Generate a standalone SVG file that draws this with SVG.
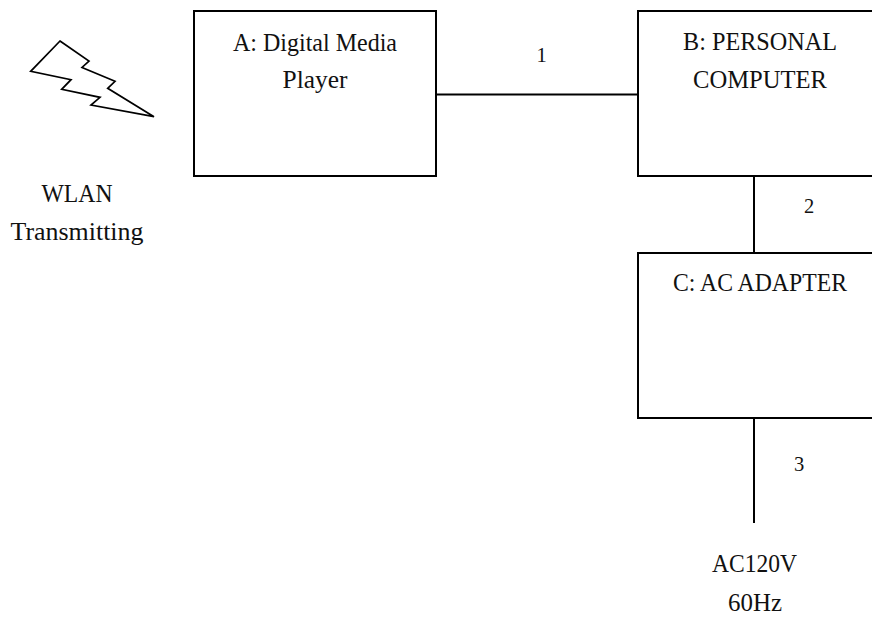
<svg xmlns="http://www.w3.org/2000/svg" width="872" height="617" viewBox="0 0 872 617">
<style>
.box{fill:#fff;stroke:#000;stroke-width:2}
.c{fill:none;stroke:#000;stroke-width:2}
text{font-family:"Liberation Serif","Noto Sans CJK JP",serif;font-size:24.5px;fill:#111;text-anchor:middle}
.s{font-size:20.5px}
</style>
<rect width="872" height="617" fill="#fff"/>
<g id="connectors">
<line class="c" x1="436" y1="94.500" x2="638" y2="94.500"/>
<line class="c" x1="754" y1="176" x2="754" y2="252"/>
<line class="c" x1="754" y1="418" x2="754" y2="523"/>
</g>
<g id="node-wlan">
<polygon points="60,41 89,61 82,67.500 115,81.300 107.700,88.300 154,116.700 91,105 100,97.300 61.700,89.300 71,79.700 30.700,71.300" fill="#fff" stroke="#000" stroke-width="1.700"/>
<text x="77" y="202" textLength="71" lengthAdjust="spacingAndGlyphs">WLAN</text>
<text x="77" y="240" textLength="133" lengthAdjust="spacingAndGlyphs">Transmitting</text>
</g>
<g id="node-a">
<rect class="box" x="194" y="11" width="242" height="165"/>
<text x="315" y="50.500" textLength="164" lengthAdjust="spacingAndGlyphs">A: Digital Media</text>
<text x="315" y="88" textLength="65" lengthAdjust="spacingAndGlyphs">Player</text>
</g>
<g id="label-1"><text class="s" x="541.500" y="61.500">1</text></g>
<g id="node-b">
<rect class="box" x="638" y="11" width="240" height="165"/>
<text x="760" y="50" textLength="154" lengthAdjust="spacingAndGlyphs">B: PERSONAL</text>
<text x="760" y="88" textLength="134" lengthAdjust="spacingAndGlyphs">COMPUTER</text>
</g>
<g id="label-2"><text class="s" x="809" y="213">2</text></g>
<g id="node-c">
<rect class="box" x="638" y="253" width="240" height="165"/>
<text x="760" y="290.800" textLength="174" lengthAdjust="spacingAndGlyphs">C: AC ADAPTER</text>
</g>
<g id="label-3"><text class="s" x="799" y="470.800">3</text></g>
<g id="node-ac">
<text x="754.500" y="572.300" textLength="85" lengthAdjust="spacingAndGlyphs">AC120V</text>
<text x="755" y="610.800" textLength="54" lengthAdjust="spacingAndGlyphs">60Hz</text>
</g>
</svg>
